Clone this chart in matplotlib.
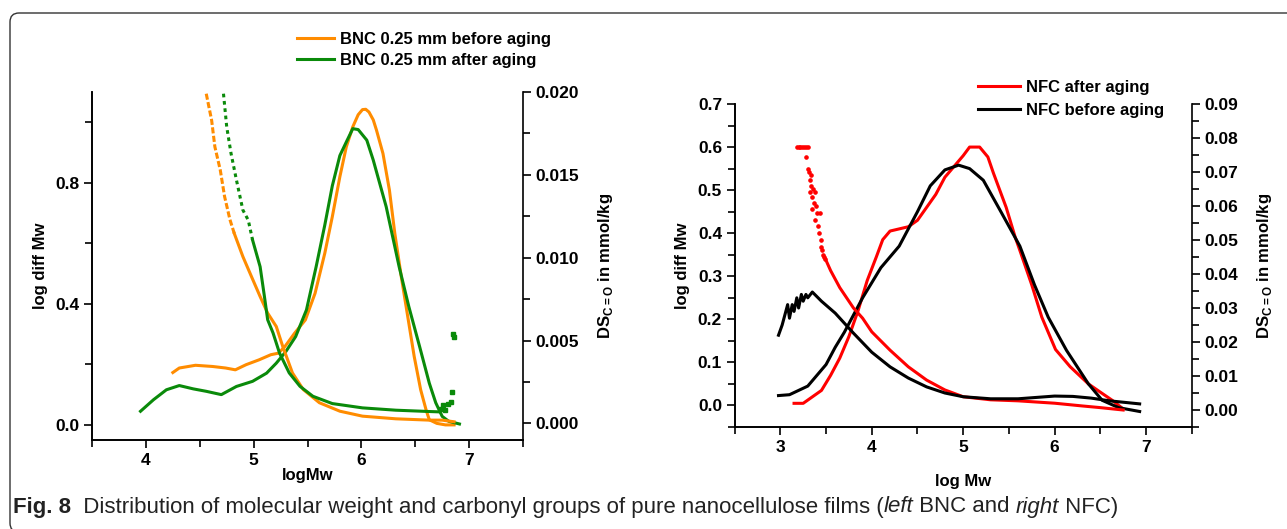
import numpy as np
import matplotlib
matplotlib.use("Agg")
import matplotlib.pyplot as plt
from matplotlib.patches import FancyBboxPatch
from matplotlib.ticker import MultipleLocator

plt.rcParams["font.family"] = ["Liberation Sans", "DejaVu Sans"]
plt.rcParams["font.weight"] = "bold"
plt.rcParams["mathtext.fontset"] = "custom"
plt.rcParams["mathtext.rm"] = "Liberation Sans:bold"
plt.rcParams["mathtext.bf"] = "Liberation Sans:bold"

# ---------------- BNC (left) ----------------
# distribution curves (left axis, log diff Mw)
bnc_before_x = [4.25, 4.31, 4.46, 4.62, 4.74, 4.83, 4.93, 5.05, 5.16, 5.23, 5.29, 5.38, 5.48, 5.57,
                5.66, 5.73, 5.80, 5.86, 5.92, 5.97, 6.01, 6.04, 6.07, 6.11, 6.14, 6.20, 6.26, 6.31,
                6.37, 6.43, 6.49, 6.55, 6.60, 6.63, 6.70, 6.78, 6.86]
bnc_before_y = [0.173, 0.188, 0.197, 0.193, 0.188, 0.182, 0.199, 0.215, 0.232, 0.237, 0.259, 0.303,
                0.347, 0.435, 0.567, 0.688, 0.82, 0.919, 0.985, 1.025, 1.042, 1.043, 1.034, 1.008,
                0.974, 0.897, 0.776, 0.633, 0.49, 0.358, 0.226, 0.116, 0.05, 0.017, 0.005, 0.0, 0.0]
bnc_after_x = [3.95, 4.07, 4.19, 4.31, 4.44, 4.56, 4.70, 4.84, 4.99, 5.12, 5.21, 5.30, 5.39, 5.49,
               5.58, 5.66, 5.73, 5.80, 5.86, 5.92, 5.97, 6.05, 6.11, 6.17, 6.23, 6.27, 6.35, 6.44,
               6.54, 6.63, 6.69, 6.75, 6.81, 6.91]
bnc_after_y = [0.045, 0.083, 0.116, 0.13, 0.119, 0.111, 0.10, 0.127, 0.144, 0.171, 0.204, 0.243,
               0.292, 0.38, 0.523, 0.66, 0.79, 0.89, 0.935, 0.979, 0.976, 0.941, 0.875, 0.798,
               0.721, 0.655, 0.523, 0.391, 0.259, 0.138, 0.073, 0.028, 0.012, 0.003]

# carbonyl curves (right axis, DS C=O)
bnc_before_ds_x = [4.56, 4.61, 4.64, 4.69, 4.73, 4.78, 4.82, 4.90, 4.98, 5.06, 5.13, 5.21, 5.27,
                   5.36, 5.46, 5.61, 5.80, 6.01, 6.32, 6.63, 6.75, 6.86]
bnc_before_ds_y = [0.0199, 0.0183, 0.0167, 0.0153, 0.0137, 0.0123, 0.01147, 0.01007, 0.00886,
                   0.00766, 0.00666, 0.00585, 0.00465, 0.00305, 0.00205, 0.00125, 0.00074,
                   0.00044, 0.00028, 0.0002, 0.0002, 0.0001]
bnc_after_ds_x = [4.72, 4.75, 4.79, 4.84, 4.90, 4.95, 4.99, 5.06, 5.10, 5.13, 5.18, 5.24, 5.33,
                  5.43, 5.55, 5.73, 6.01, 6.32, 6.63, 6.72]
bnc_after_ds_y = [0.0199, 0.0179, 0.0163, 0.0147, 0.01288, 0.01227, 0.01107, 0.00946, 0.00766,
                  0.00626, 0.00546, 0.00425, 0.00305, 0.00224, 0.00164, 0.0012, 0.00094,
                  0.0008, 0.00072, 0.0007]
bnc_after_dots_x = [6.74, 6.76, 6.78, 6.80, 6.83, 6.84, 6.85, 6.86]
bnc_after_dots_y = [0.0009, 0.0011, 0.0008, 0.0012, 0.0013, 0.0019, 0.0054, 0.0052]

# ---------------- NFC (right) ----------------
nfc_after_x = [3.15, 3.25, 3.35, 3.45, 3.55, 3.65, 3.75, 3.85, 3.95, 4.05, 4.12, 4.20, 4.30, 4.40,
               4.50, 4.60, 4.70, 4.80, 4.90, 5.00, 5.07, 5.18, 5.27, 5.33, 5.40, 5.47, 5.57, 5.62,
               5.75, 5.86, 6.01, 6.17, 6.37, 6.52, 6.63, 6.75]
nfc_after_y = [0.005, 0.005, 0.02, 0.035, 0.07, 0.11, 0.16, 0.22, 0.29, 0.345, 0.385, 0.405, 0.41,
               0.415, 0.43, 0.46, 0.49, 0.53, 0.555, 0.58, 0.6, 0.6, 0.577, 0.54, 0.5, 0.46, 0.39,
               0.36, 0.28, 0.205, 0.13, 0.09, 0.05, 0.028, 0.012, -0.008]
nfc_before_x = [2.98, 3.10, 3.20, 3.30, 3.40, 3.50, 3.60, 3.70, 3.80, 3.90, 4.00, 4.10, 4.20, 4.30,
                4.40, 4.50, 4.64, 4.80, 4.95, 5.07, 5.22, 5.42, 5.62, 5.78, 5.93, 6.13, 6.37, 6.52,
                6.70, 6.93]
nfc_before_y = [0.023, 0.025, 0.035, 0.045, 0.07, 0.095, 0.135, 0.17, 0.21, 0.25, 0.285, 0.32,
                0.345, 0.37, 0.41, 0.45, 0.51, 0.547, 0.558, 0.55, 0.523, 0.447, 0.37, 0.28, 0.205,
                0.128, 0.05, 0.012, -0.005, -0.014]

nfc_after_ds_x = [3.50, 3.55, 3.65, 3.80, 3.90, 4.00, 4.20, 4.40, 4.60, 4.80, 5.00, 5.30, 5.60,
                  6.00, 6.30, 6.50, 6.75]
nfc_after_ds_y = [0.044, 0.041, 0.036, 0.030, 0.027, 0.023, 0.0176, 0.0127, 0.0088, 0.0059, 0.0039,
                  0.0030, 0.0027, 0.0020, 0.0012, 0.0007, 0.0]
nfc_after_dots_x = [3.18, 3.20, 3.22, 3.24, 3.26, 3.28, 3.30, 3.28, 3.30, 3.31, 3.32, 3.33, 3.32,
                    3.34, 3.35, 3.36, 3.35, 3.37, 3.38, 3.39, 3.40, 3.38, 3.41, 3.42, 3.43, 3.44,
                    3.45, 3.46, 3.47, 3.48, 3.49]
nfc_after_dots_y = [0.0773, 0.0773, 0.0773, 0.0773, 0.0773, 0.0773, 0.0773, 0.0744, 0.0710, 0.0700,
                    0.0676, 0.0690, 0.0640, 0.0660, 0.0626, 0.0650, 0.0590, 0.0610, 0.0640, 0.0600,
                    0.0580, 0.0560, 0.0540, 0.0520, 0.0580, 0.0500, 0.0480, 0.0470, 0.0455, 0.0450,
                    0.0445]
nfc_before_ds_x = [2.98, 3.02, 3.05, 3.08, 3.10, 3.13, 3.15, 3.18, 3.20, 3.23, 3.25, 3.28, 3.30,
                   3.35, 3.45, 3.60, 3.80, 4.00, 4.20, 4.40, 4.60, 4.80, 5.00, 5.30, 5.60, 6.00,
                   6.20, 6.40, 6.60, 6.93]
nfc_before_ds_y = [0.022, 0.025, 0.028, 0.031, 0.027, 0.031, 0.029, 0.033, 0.030, 0.034, 0.032,
                   0.034, 0.033, 0.0347, 0.032, 0.0285, 0.0226, 0.017, 0.0127, 0.0094, 0.0068,
                   0.005, 0.0039, 0.0033, 0.0033, 0.0041, 0.004, 0.0035, 0.0027, 0.0018]

ORANGE = "#ff8c00"
GREEN = "#0a8a0a"
RED = "#ff0000"
LW = 2.2

fig = plt.figure(figsize=(12.87, 5.29), dpi=100)


def style_axes(ax, ax2):
    for a in (ax, ax2):
        a.spines["top"].set_visible(False)
        for s in a.spines.values():
            s.set_linewidth(1.2)
    ax.spines["right"].set_visible(False)
    for a in (ax, ax2):
        a.tick_params(which="both", direction="out", width=1.2, labelsize=12.5, pad=3)
        a.tick_params(which="major", length=6)
        a.tick_params(which="minor", length=5)
    for lab in ax.get_xticklabels() + ax.get_yticklabels() + ax2.get_yticklabels():
        lab.set_fontweight("bold")


leg_kw = dict(loc="center left", frameon=False, prop={"weight": "bold", "size": 12},
              handletextpad=0.35, borderaxespad=0, borderpad=0)

# ---- left panel ----
axL = fig.add_axes([0.0715, 0.1682, 0.3349, 0.6578])
axL2 = axL.twinx()
lb, = axL.plot(bnc_before_x, bnc_before_y, color=ORANGE, lw=LW, label="BNC 0.25 mm before aging")
la, = axL.plot(bnc_after_x, bnc_after_y, color=GREEN, lw=LW, label="BNC 0.25 mm after aging")
axL2.plot(bnc_before_ds_x[:7], bnc_before_ds_y[:7], color=ORANGE, lw=LW, ls=(0, (2, 0.8)))
axL2.plot(bnc_before_ds_x[6:], bnc_before_ds_y[6:], color=ORANGE, lw=LW)
axL2.plot(bnc_after_ds_x[:7], bnc_after_ds_y[:7], color=GREEN, lw=LW, ls=(0, (1.2, 1.2)))
axL2.plot(bnc_after_ds_x[6:], bnc_after_ds_y[6:], color=GREEN, lw=LW)
axL2.plot(bnc_after_dots_x, bnc_after_dots_y, "s", color=GREEN, ms=2.5)

axL.set_xlim(3.5, 7.5)
axL.set_ylim(-0.05, 1.1)
axL2.set_ylim(-0.001, 0.020)
axL.set_xticks([4, 5, 6, 7])
axL.xaxis.set_minor_locator(MultipleLocator(0.5))
axL.set_yticks([0.0, 0.4, 0.8])
axL.yaxis.set_minor_locator(MultipleLocator(0.2))
axL2.set_yticks([0.0, 0.005, 0.010, 0.015, 0.020])
axL2.set_yticklabels(["0.000", "0.005", "0.010", "0.015", "0.020"])
axL2.yaxis.set_minor_locator(MultipleLocator(0.0025))
style_axes(axL, axL2)
axL.set_xlabel("logMw", fontsize=12, fontweight="bold", labelpad=0)
axL.set_ylabel("log diff Mw", fontsize=12, fontweight="bold", labelpad=5)
axL2.set_ylabel(r"DS$_{\mathrm{C=O}}$ in mmol/kg", fontsize=12, fontweight="bold", labelpad=12)
fig.legend(handles=[lb, la], bbox_to_anchor=(297 / 1287, 1 - 50 / 529),
           handlelength=2.2, labelspacing=0.4, **leg_kw)

# ---- right panel ----
axR = fig.add_axes([0.5708, 0.1928, 0.3552, 0.6106])
axR2 = axR.twinx()
ra, = axR.plot(nfc_after_x, nfc_after_y, color=RED, lw=LW, label="NFC after aging")
rb, = axR.plot(nfc_before_x, nfc_before_y, color="black", lw=LW, label="NFC before aging")
axR2.plot(nfc_after_dots_x, nfc_after_dots_y, "o", color=RED, ms=2.3)
axR2.plot(nfc_after_ds_x, nfc_after_ds_y, color=RED, lw=LW)
axR2.plot(nfc_before_ds_x, nfc_before_ds_y, color="black", lw=LW)

axR.set_xlim(2.5, 7.5)
axR.set_ylim(-0.05, 0.7)
axR2.set_ylim(-0.005, 0.09)
axR.set_xticks([3, 4, 5, 6, 7])
axR.xaxis.set_minor_locator(MultipleLocator(0.5))
axR.set_yticks(np.arange(0, 0.71, 0.1))
axR.set_yticklabels(["0.0", "0.1", "0.2", "0.3", "0.4", "0.5", "0.6", "0.7"])
axR.yaxis.set_minor_locator(MultipleLocator(0.05))
axR2.set_yticks(np.arange(0, 0.091, 0.01))
axR2.set_yticklabels(["%.2f" % v for v in np.arange(0, 0.091, 0.01)])
axR2.yaxis.set_minor_locator(MultipleLocator(0.005))
style_axes(axR, axR2)
axR.set_xlabel("log Mw", fontsize=12, fontweight="bold", labelpad=14)
axR.set_ylabel("log diff Mw", fontsize=12, fontweight="bold", labelpad=6)
axR2.set_ylabel(r"DS$_{\mathrm{C=O}}$ in mmol/kg", fontsize=12, fontweight="bold", labelpad=12)
fig.legend(handles=[ra, rb], bbox_to_anchor=(978 / 1287, 1 - 99 / 529),
           handlelength=2.5, labelspacing=0.5, **leg_kw)

# ---- frame and caption ----
frame = FancyBboxPatch((10, -3), 1300, 519, boxstyle="round,pad=0,rounding_size=9",
                       transform=None, fill=False, edgecolor="#333333", lw=1.0)
fig.patches.append(frame)

cap_family = ["Liberation Sans", "DejaVu Sans"]
pieces = [("Fig. 8", "bold", "normal"),
          ("  Distribution of molecular weight and carbonyl groups of pure nanocellulose films (",
           "normal", "normal"),
          ("left", "normal", "italic"),
          (" BNC and ", "normal", "normal"),
          ("right", "normal", "italic"),
          (" NFC)", "normal", "normal")]
fig.canvas.draw()
renderer = fig.canvas.get_renderer()
xpix = 13
for txt, w, st in pieces:
    t = fig.text(xpix / 1287, 1 - 507 / 529, txt, fontsize=16, fontweight=w, fontstyle=st,
                 family=cap_family, va="center", ha="left", color="#222222")
    xpix += t.get_window_extent(renderer).width

fig.savefig("out.png", dpi=100)
